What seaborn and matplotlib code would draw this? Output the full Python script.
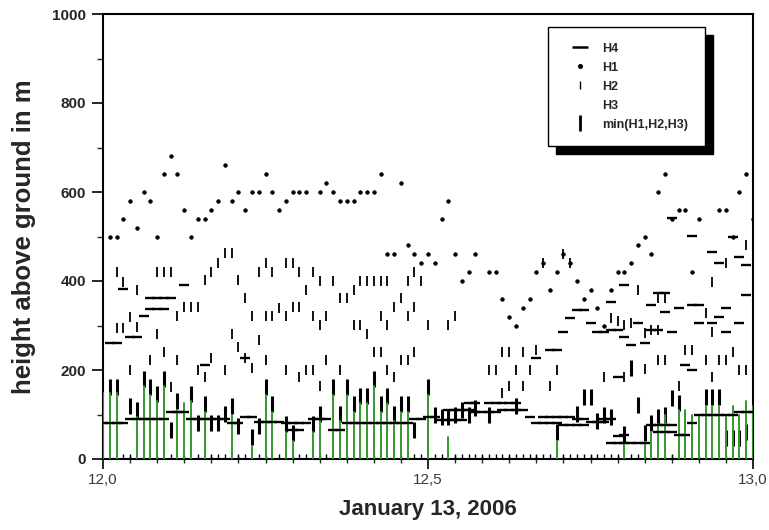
import numpy as np
import pandas as pd
import matplotlib
matplotlib.use("Agg")
import matplotlib.pyplot as plt
import seaborn as sns
from matplotlib.lines import Line2D
from matplotlib.patches import Rectangle
from matplotlib.transforms import IdentityTransform
from matplotlib.ticker import MultipleLocator, FuncFormatter

nan = np.nan

# ---------------- data (15-minute samples, day-of-year 12.0 ... 13.0) ----------------
day_start = 12.0
step_days = 1 / 96

h1 = [nan, 500, 500, 540, 580, 520, 600, 580, 500, 640,
      680, 640, 560, 500, 540, 540, 560, 580, 660, 580,
      600, 560, 600, 600, 640, 600, 560, 580, 600, 600,
      600, nan, 600, 620, 600, 580, 580, 580, 600, 600,
      600, 640, 460, 460, 620, 480, 460, 440, 460, 440,
      540, 580, 460, 400, 420, 460, nan, 420, 420, 360,
      320, 300, 340, 360, 420, 440, 380, 420, 460, 440,
      400, 360, 380, 340, 300, 380, 420, 420, 440, 480,
      500, 460, 600, 640, 540, 560, 560, 420, 540, nan,
      nan, 560, 560, 500, 600, 640, 540]

h2_hi = [nan, nan, 421, 398, nan, 380, nan, nan, 421, 421,
         421, nan, 342, 342, 342, 402, 421, 441, 462, 462,
         402, 361, nan, 421, 441, 421, nan, 441, 441, 421,
         380, 421, 401, nan, 401, 361, 361, 380, 401, 401,
         401, 401, 401, 341, 361, 401, 421, 401, nan, nan,
         nan, nan, nan, nan, nan, nan, nan, nan, nan, nan,
         nan, nan, nan, nan, nan, 440, nan, nan, 460, 440,
         nan, nan, nan, nan, nan, nan, nan, nan, nan, 380,
         nan, nan, 361, 361, nan, nan, nan, nan, nan, nan,
         398, nan, 440, nan, nan, 481, nan]

h2_mid = [nan, nan, 294, 294, 320, 297, nan, nan, 282, nan,
          nan, 321, nan, nan, nan, nan, nan, nan, nan, 282,
          252, nan, 321, 267, 321, 321, 339, 321, 341, 341,
          nan, 321, 301, 321, nan, nan, nan, 301, 301, 281,
          241, 321, 301, nan, nan, 321, 341, nan, 301, nan,
          nan, 301, 321, nan, nan, nan, nan, nan, nan, 241,
          241, nan, 241, nan, 245, nan, nan, nan, nan, nan,
          nan, nan, nan, nan, nan, 316, 309, 301, 305, nan,
          283, 291, 291, nan, nan, nan, 245, 245, nan, 327,
          286, nan, nan, 241, nan, nan, nan]

h2_lo = [nan, nan, nan, nan, 200, nan, nan, 222, nan, 241,
         162, 222, nan, nan, 200, 185, 227, nan, 200, nan,
         nan, 227, 205, nan, 222, nan, nan, 201, nan, 185,
         201, 201, 163, 222, nan, 201, nan, nan, nan, nan,
         nan, 241, 201, 185, 222, 222, 241, nan, nan, nan,
         nan, nan, nan, nan, nan, nan, nan, 201, 201, 148,
         163, 201, 163, 201, nan, nan, 163, 201, nan, nan,
         nan, nan, nan, nan, 185, nan, nan, 185, nan, nan,
         203, nan, 222, 222, nan, 163, nan, nan, nan, 222,
         185, 222, 222, nan, 200, 200, nan]

h3 = [nan, nan, nan, 6, 6, nan, nan, nan, nan, nan,
      6, nan, nan, nan, 6, nan, 6, 6, 6, nan,
      6, 6, nan, 6, nan, nan, 6, nan, nan, 6,
      6, nan, nan, 6, nan, nan, nan, nan, nan, nan,
      nan, nan, nan, nan, nan, nan, 6, 6, nan, 6,
      6, nan, 6, 6, 6, 6, 6, 6, 6, 6,
      6, 6, 6, 6, 6, 6, 6, nan, 6, 6,
      6, 6, 6, 6, 6, 6, 6, nan, 6, 6,
      nan, nan, nan, nan, 6, nan, nan, nan, nan, nan,
      nan, nan, nan, nan, nan, nan, nan]

h4_lo = [82, 82, 82, 82, 91, 91, 91, 91, 91, 91,
         106, 106, 106, 91, 91, 91, 91, 91, 91, 82,
         82, 95, 95, 84, 84, 84, 84, 80, 80, 80,
         80, 89, 89, 89, 65, 65, 80, 80, 80, 80,
         80, 80, 80, 80, 80, 80, 91, 91, 95, 95,
         88, 88, 88, 88, 110, 106, 106, 106, 106, 110,
         110, 110, 110, 95, 82, 82, 82, 82, 76, 76,
         76, 76, 84, 84, 84, 37, 37, 37, 37, 37,
         37, 76, 76, 76, 76, 54, 54, 80, 99, 99,
         99, 99, 99, 99, 106, 106, 106]

h4_mid = [nan, nan, nan, nan, nan, nan, nan, nan, nan, nan,
          nan, nan, nan, nan, nan, nan, nan, nan, nan, nan,
          nan, nan, nan, nan, nan, nan, nan, nan, 65, 65,
          nan, nan, nan, nan, nan, nan, nan, nan, nan, nan,
          nan, nan, nan, nan, nan, nan, nan, nan, nan, nan,
          nan, 110, 110, 110, 125, 125, nan, 125, 125, 125,
          125, 125, nan, nan, nan, 95, 95, 95, 95, 95,
          91, 91, nan, nan, 91, 91, 52, 54, nan, nan,
          nan, nan, 61, 61, 61, nan, nan, nan, nan, nan,
          nan, nan, nan, nan, nan, nan, nan]

h4_up = [nan, 261, 261, 381, 275, 275, 321, 336, 336, 336,
         nan, nan, 391, nan, nan, 211, nan, nan, nan, nan,
         nan, 227, nan, nan, nan, nan, nan, nan, nan, nan,
         nan, nan, nan, nan, nan, nan, nan, nan, nan, nan,
         nan, nan, nan, nan, nan, nan, nan, nan, nan, nan,
         nan, nan, nan, nan, nan, nan, nan, nan, nan, nan,
         nan, nan, nan, nan, 226, nan, 245, 245, 286, 316,
         335, 335, 305, 286, 286, 291, 291, 275, 256, 305,
         261, 291, 291, 331, 286, 339, 211, 200, 305, nan,
         305, 320, 286, nan, 305, 369, nan]

h4_up2 = [nan, nan, nan, nan, nan, nan, nan, 361, 361, 361,
          361, nan, nan, nan, nan, nan, nan, nan, nan, nan,
          nan, nan, nan, nan, nan, nan, nan, nan, nan, nan,
          nan, nan, nan, nan, nan, nan, nan, nan, nan, nan,
          nan, nan, nan, nan, nan, nan, nan, nan, nan, nan,
          nan, nan, nan, nan, nan, nan, nan, nan, nan, nan,
          nan, nan, nan, nan, nan, nan, nan, nan, nan, nan,
          nan, nan, nan, nan, nan, 353, 185, 391, nan, nan,
          nan, 346, 374, 374, nan, nan, nan, 346, 346, nan,
          nan, nan, 339, nan, nan, nan, nan]

h4_up3 = [nan] * 84 + [541, nan, nan, 501, nan, nan, 466, 440, nan, 500, 455, 436, nan]

h_min = [nan, 161, 161, nan, 118, 110, 180, 161, 146, 180,
         65, 131, nan, 146, 80, 123, 80, 80, 101, 119,
         75, nan, 50, 75, 161, 123, nan, 78, 58, nan,
         nan, 78, 101, nan, 161, 101, 161, 123, 142, 142,
         180, 123, 142, 101, 123, 123, 65, nan, 161, 100,
         95, 95, 100, 110, 100, 115, nan, 100, nan, nan,
         nan, 120, nan, nan, nan, nan, nan, 60, nan, nan,
         101, 139, 139, 86, 98, 95, nan, 56, 204, 121,
         58, 80, 95, 100, 137, 125, nan, nan, nan, 140,
         140, 140, 47, 47, 47, 60, 90]

green = [148, 148, 148, nan, nan, 95, 163, 144, 130, 163,
         nan, 110, 125, 130, nan, 105, nan, nan, nan, 100,
         nan, nan, 30, nan, 144, 105, nan, 60, 40, nan,
         nan, 60, 85, nan, 144, 85, 144, 105, 125, 125,
         163, 105, 125, 85, 105, 105, nan, nan, 144, nan,
         nan, 50, nan, nan, nan, nan, nan, nan, nan, nan,
         nan, nan, nan, nan, nan, nan, nan, 41, nan, nan,
         nan, nan, nan, nan, nan, nan, nan, 35, nan, nan,
         35, 60, 78, 100, nan, 110, 110, 100, 100, 120,
         120, 120, 100, 120, 100, 130, 120]

series_labels = ["H4", "H1", "H2", "H3", "min(H1,H2,H3)"]
x_major = [12.0, 12.5, 13.0]
y_major = [0, 200, 400, 600, 800, 1000]

# ---------------- figure ----------------
sns.set_style("ticks")
plt.rcParams["font.family"] = ["Liberation Sans", "DejaVu Sans"]

n = len(h1)
time = day_start + step_days * np.arange(n)

fig = plt.figure(figsize=(7.69, 5.30), dpi=100)
ax = fig.add_axes([103 / 769, 71 / 530, 650 / 769, 445 / 530])


def layer(vals, zorder, **kw):
    df = pd.DataFrame({"t": time, "h": vals}).dropna()
    sns.lineplot(data=df, x="t", y="h", estimator=None, sort=False,
                 linestyle="none", ax=ax, legend=False, color="black",
                 markeredgecolor="black", zorder=zorder, **kw)


GREEN = "#34982f"

# H3: tiny ticks near the ground
layer(h3, 2, marker="|", markersize=3, markeredgewidth=1.0)
# min(H1,H2,H3): thick vertical marks
layer(h_min, 3, marker="|", markersize=11, markeredgewidth=2.2)

# green sticks from ground
rows = []
for i, g in enumerate(green):
    if not np.isnan(g):
        rows.append((time[i], 0.0, i))
        rows.append((time[i], g, i))
gdf = pd.DataFrame(rows, columns=["t", "h", "seg"])
sns.lineplot(data=gdf, x="t", y="h", units="seg", estimator=None, sort=False,
             color=GREEN, lw=1.4, ax=ax, legend=False, zorder=4)

# H2 thin ticks
for arr in (h2_hi, h2_mid, h2_lo):
    layer(arr, 5, marker="|", markersize=6.5, markeredgewidth=1.3)
# H1 dots
layer(h1, 6, marker="o", markersize=2.6, markeredgewidth=0.5)
# H4 dashes
for arr in (h4_lo, h4_mid, h4_up, h4_up2, h4_up3):
    layer(arr, 7, marker="_", markersize=6.5, markeredgewidth=1.7)

# ---------------- axes ----------------
ax.set_xlim(12.0, 13.0)
ax.set_ylim(0, 1000)
ax.set_xticks(x_major)
ax.xaxis.set_minor_locator(MultipleLocator(1 / 24))
ax.xaxis.set_major_formatter(FuncFormatter(lambda v, p: f"{v:.1f}".replace(".", ",")))
ax.set_yticks(y_major)
ax.yaxis.set_minor_locator(MultipleLocator(100))

for s in ax.spines.values():
    s.set_linewidth(1.5)
    s.set_color("black")
    s.set_visible(True)

ax.tick_params(axis="x", which="major", direction="out", length=7, width=1.4,
               labelsize=11, labelcolor="#3a3a3a", pad=3)
ax.tick_params(axis="x", which="minor", direction="inout", length=6, width=1.0)
ax.tick_params(axis="y", which="major", direction="out", length=8, width=1.4,
               labelsize=11, pad=4)
ax.tick_params(axis="y", which="minor", direction="out", length=4, width=1.0)
for lbl in ax.get_yticklabels():
    lbl.set_fontweight("bold")

ax.set_xlabel("January 13, 2006", fontsize=16, fontweight="bold", labelpad=9)
ax.set_ylabel("height above ground in m", fontsize=18.5, fontweight="bold", labelpad=12)

# ---------------- legend ----------------
handles = [
    Line2D([], [], ls="none", marker="_", ms=11, mew=1.8, color="black"),
    Line2D([], [], ls="none", marker="o", ms=2.6, color="black"),
    Line2D([], [], ls="none", marker="|", ms=6, mew=1.0, color="black"),
    Line2D([], [], ls="none", marker="None", color="black"),
    Line2D([], [], ls="none", marker="|", ms=11, mew=2.0, color="black"),
]
leg = ax.legend(handles, series_labels, loc="upper left",
                bbox_to_anchor=(0.6846, 0.7056, 0.2415, 0.2654), mode="expand",
                borderaxespad=0, frameon=True, fancybox=False, framealpha=1,
                edgecolor="black", facecolor="white", borderpad=1.25,
                handlelength=2.7, handletextpad=0.4, labelspacing=0.56,
                prop={"family": "Liberation Sans", "weight": "bold", "size": 9})
leg.get_frame().set_linewidth(1.0)
leg.set_zorder(20)

fig.canvas.draw()
bb = leg.get_window_extent()
shadow = Rectangle((bb.x0 + 8, bb.y0 - 8), bb.width, bb.height,
                   transform=IdentityTransform(), facecolor="black",
                   edgecolor="black", zorder=19, clip_on=False)
ax.add_patch(shadow)

fig.savefig("out.png", dpi=100, facecolor="white")
